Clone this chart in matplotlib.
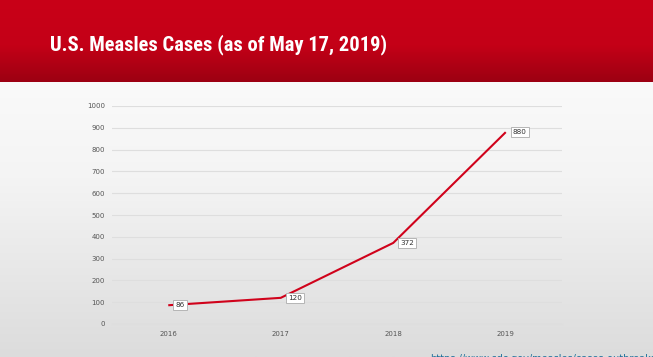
import numpy as np
import matplotlib
matplotlib.use("Agg")
import matplotlib.pyplot as plt
from matplotlib.colors import LinearSegmentedColormap
from matplotlib import font_manager

# ---- data ----
years = ["2016", "2017", "2018", "2019"]
cases = [86, 120, 372, 880]
y_ticks = [0, 100, 200, 300, 400, 500, 600, 700, 800, 900, 1000]
title = "U.S. Measles Cases (as of May 17, 2019)"
source = "https://www.cdc.gov/measles/cases-outbreaks.html"

W, H = 653, 357
fig = plt.figure(figsize=(W / 100, H / 100), dpi=100)

# pick a narrow bold font if available
avail = {f.name for f in font_manager.fontManager.ttflist}
title_font = None
for cand in ["Liberation Sans Narrow", "Roboto Condensed", "DejaVu Sans Condensed",
             "Open Sans Condensed", "Noto Sans Condensed"]:
    if cand in avail:
        title_font = cand
        break

# background gradient (white -> light grey)
bg = fig.add_axes([0, 0, 1, 1], zorder=-2)
grad = np.linspace(0, 1, 256).reshape(-1, 1)
bg_cmap = LinearSegmentedColormap.from_list("bg", ["#ffffff", "#f4f4f4", "#dcdcdc"])
bg.imshow(grad, aspect="auto", cmap=bg_cmap, extent=[0, 1, 0, 1], origin="upper")
bg.set_axis_off()

# header band
hdr_h = 82 / H
hdr = fig.add_axes([0, 1 - hdr_h, 1, hdr_h], zorder=-1)
hdr_cmap = LinearSegmentedColormap.from_list(
    "hdr", [(0, "#c90018"), (0.55, "#c40017"), (1, "#9c0012")])
hdr.imshow(grad, aspect="auto", cmap=hdr_cmap, extent=[0, 1, 0, 1], origin="upper")
hdr.set_axis_off()

if title_font is not None:
    t = fig.text(50 / W, 1 - 50 / H, title, color="white", fontsize=17, fontweight="bold",
                 family=[title_font, "DejaVu Sans"], ha="left", va="baseline")
else:
    t = fig.text(50 / W, 1 - 50 / H, title, color="white", fontsize=17, fontweight="bold",
                 family="DejaVu Sans", fontstretch="condensed", ha="left", va="baseline")

# fit title width to reference (~338 px)
fig.canvas.draw()
bb = t.get_window_extent()
if bb.width > 0:
    scale = 338 / bb.width
    if scale < 1:
        t.set_fontsize(17 * max(scale, 0.7))

# plot axes
ax = fig.add_axes([112 / W, (H - 324) / H, 450 / W, 218 / H])
ax.patch.set_alpha(0)
x = np.arange(len(years))
ax.plot(x, cases, color="#d0021b", lw=1.5, solid_capstyle="butt", zorder=3)
for xi, v in zip(x, cases):
    ax.annotate(str(v), (xi, v), xytext=(5, 0), textcoords="offset points",
                ha="left", va="center", fontsize=5.2, color="#333333",
                bbox=dict(boxstyle="square,pad=0.3", fc="white", ec="#b5b5b5", lw=0.7),
                zorder=4)

ax.set_xlim(-0.5, len(years) - 0.5)
ax.set_ylim(0, 1000)
ax.set_yticks(y_ticks)
ax.set_yticklabels([str(t) for t in y_ticks])
ax.set_xticks(x)
ax.set_xticklabels(years)
ax.grid(axis="y", color="#dedede", lw=0.8)
ax.set_axisbelow(True)
for s in ["top", "right", "left"]:
    ax.spines[s].set_visible(False)
ax.spines["bottom"].set_color("#dedede")
ax.spines["bottom"].set_linewidth(0.8)
ax.tick_params(axis="both", length=0, labelsize=5, labelcolor="#555555")
ax.tick_params(axis="y", pad=5)
ax.tick_params(axis="x", pad=5)

# clipped source link at bottom (only the tops show, as in the reference)
fig.text(430 / W, 1 - 353.5 / H, source, color="#1f6f9a", fontsize=7,
         ha="left", va="top")

fig.savefig("out.png", dpi=100)
